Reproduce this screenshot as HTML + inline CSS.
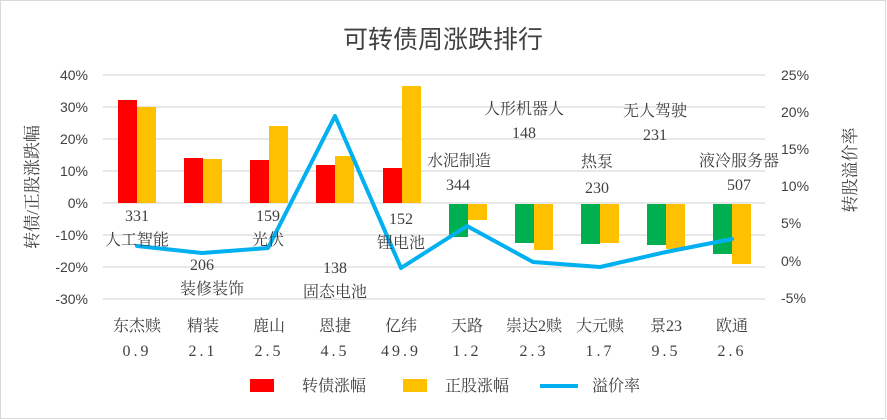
<!DOCTYPE html>
<html><head><meta charset="utf-8"><style>
body{margin:0;background:#fff}
svg{display:block;font-family:"Liberation Sans","Noto Sans CJK SC",sans-serif}
.sf{font-family:"Liberation Serif","Noto Serif CJK SC",serif}
</style></head><body>
<svg width="887" height="420" viewBox="0 0 887 420" xmlns="http://www.w3.org/2000/svg">
<rect x="0.5" y="0.5" width="885" height="418" fill="#fff" stroke="#d9d9d9"/>
<text x="443" y="48" font-size="25" text-anchor="middle" fill="#404040">可转债周涨跌排行</text>
<g stroke="#d9d9d9" stroke-width="1.3">
<line x1="103" x2="765" y1="75" y2="75"/><line x1="103" x2="765" y1="107" y2="107"/>
<line x1="103" x2="765" y1="139" y2="139"/><line x1="103" x2="765" y1="171" y2="171"/>
<line x1="103" x2="765" y1="203" y2="203"/><line x1="103" x2="765" y1="235" y2="235"/>
<line x1="103" x2="765" y1="267" y2="267"/><line x1="103" x2="765" y1="299" y2="299"/>
</g>
<g font-size="14" fill="#404040" text-anchor="end">
<text x="88" y="80">40%</text><text x="88" y="112">30%</text><text x="88" y="144">20%</text>
<text x="88" y="176">10%</text><text x="88" y="208">0%</text><text x="88" y="240">-10%</text>
<text x="88" y="272">-20%</text><text x="88" y="304">-30%</text>
</g>
<g font-size="14" fill="#404040">
<text x="781" y="80">25%</text><text x="781" y="117">20%</text><text x="781" y="154">15%</text>
<text x="781" y="191">10%</text><text x="781" y="228">5%</text><text x="781" y="266">0%</text>
<text x="781" y="303">-5%</text>
</g>
<text class="sf" transform="translate(38,187) rotate(-90)" font-size="17" fill="#404040" text-anchor="middle">转债/正股涨跌幅</text>
<text class="sf" transform="translate(856,170) rotate(-90)" font-size="17" fill="#404040" text-anchor="middle">转股溢价率</text>
<g>
<rect x="118" y="100" width="19" height="103" fill="#ff0000"/><rect x="137" y="107" width="19" height="96" fill="#ffc000"/>
<rect x="184" y="158" width="19" height="45" fill="#ff0000"/><rect x="203" y="159" width="19" height="44" fill="#ffc000"/>
<rect x="250" y="160" width="19" height="43" fill="#ff0000"/><rect x="269" y="126" width="19" height="77" fill="#ffc000"/>
<rect x="316" y="165" width="19" height="38" fill="#ff0000"/><rect x="335" y="156" width="19" height="47" fill="#ffc000"/>
<rect x="383" y="168" width="19" height="35" fill="#ff0000"/><rect x="402" y="86" width="19" height="117" fill="#ffc000"/>
<rect x="449" y="204" width="19" height="33" fill="#00b050"/><rect x="468" y="204" width="19" height="16" fill="#ffc000"/>
<rect x="515" y="204" width="19" height="39" fill="#00b050"/><rect x="534" y="204" width="19" height="46" fill="#ffc000"/>
<rect x="581" y="204" width="19" height="40" fill="#00b050"/><rect x="600" y="204" width="19" height="39" fill="#ffc000"/>
<rect x="647" y="204" width="19" height="41" fill="#00b050"/><rect x="666" y="204" width="19" height="45" fill="#ffc000"/>
<rect x="713" y="204" width="19" height="50" fill="#00b050"/><rect x="732" y="204" width="19" height="60" fill="#ffc000"/>
</g>
<polyline points="137,246 202,253 268,248 335,116 401,268 467,226 533,262 600,267 666,252 732,239" fill="none" stroke="#00b0f0" stroke-width="4" stroke-linejoin="round" stroke-linecap="round"/>
<g class="sf" font-size="16" fill="#404040" text-anchor="middle">
<text x="137" y="221">331</text><text x="137" y="245">人工智能</text>
<text x="202" y="270">206</text><text x="212" y="294">装修装饰</text>
<text x="268" y="221">159</text><text x="268" y="245">光伏</text>
<text x="335" y="273">138</text><text x="335" y="297">固态电池</text>
<text x="401" y="224">152</text><text x="401" y="248">锂电池</text>
<text x="459" y="166">水泥制造</text><text x="458" y="190">344</text>
<text x="524" y="114">人形机器人</text><text x="524" y="138">148</text>
<text x="597" y="167">热泵</text><text x="597" y="193">230</text>
<text x="655" y="116">无人驾驶</text><text x="655" y="140">231</text>
<text x="739" y="166">液冷服务器</text><text x="739" y="190">507</text>
</g>
<g class="sf" font-size="16" fill="#404040" text-anchor="middle">
<text x="137" y="331">东杰赎</text><text x="137" y="356" letter-spacing="3">0.9</text>
<text x="203" y="331">精装</text><text x="203" y="356" letter-spacing="3">2.1</text>
<text x="269" y="331">鹿山</text><text x="269" y="356" letter-spacing="3">2.5</text>
<text x="335" y="331">恩捷</text><text x="335" y="356" letter-spacing="3">4.5</text>
<text x="401" y="331">亿纬</text><text x="401" y="356" letter-spacing="3">49.9</text>
<text x="467" y="331">天路</text><text x="467" y="356" letter-spacing="3">1.2</text>
<text x="534" y="331">崇达2赎</text><text x="534" y="356" letter-spacing="3">2.3</text>
<text x="600" y="331">大元赎</text><text x="600" y="356" letter-spacing="3">1.7</text>
<text x="666" y="331">景23</text><text x="666" y="356" letter-spacing="3">9.5</text>
<text x="732" y="331">欧通</text><text x="732" y="356" letter-spacing="3">2.6</text>
</g>
<g class="sf" font-size="16" fill="#404040">
<rect x="250" y="379" width="24" height="13" fill="#ff0000"/><text x="302" y="391">转债涨幅</text>
<rect x="403" y="379" width="24" height="13" fill="#ffc000"/><text x="445" y="391">正股涨幅</text>
<line x1="540" y1="386" x2="578" y2="386" stroke="#00b0f0" stroke-width="4"/><text x="592" y="391">溢价率</text>
</g>
</svg>
</body></html>
